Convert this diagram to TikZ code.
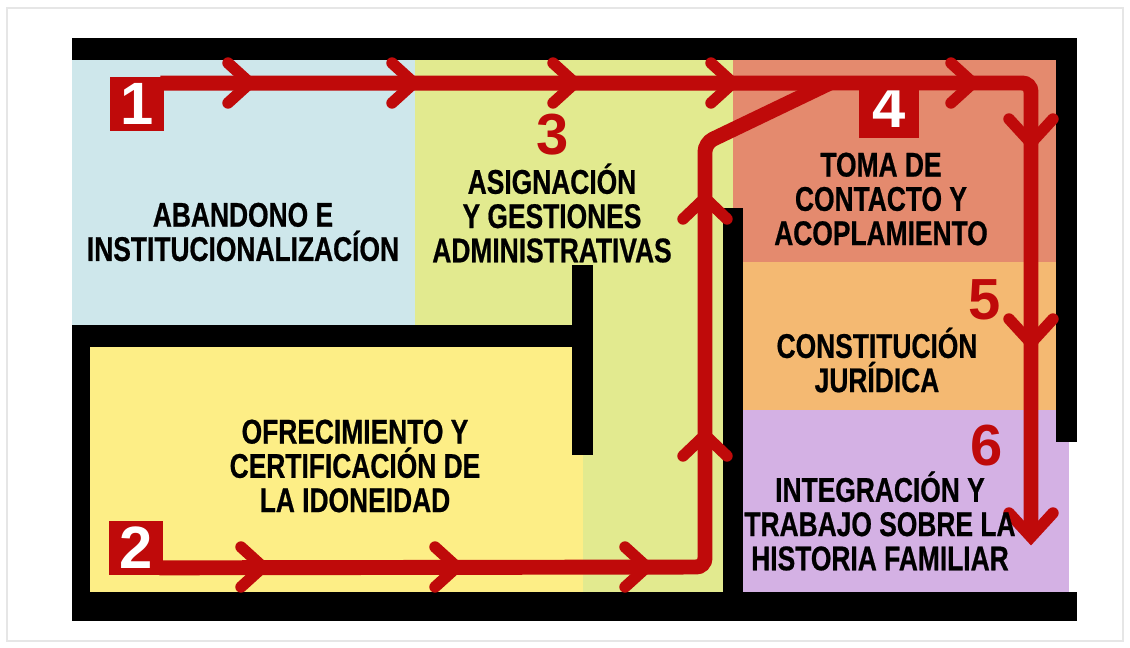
\documentclass[tikz,border=0pt]{standalone}
\usepackage{fontspec}
\setmainfont{Liberation Sans}
\newfontfamily\labfont{Liberation Sans}[FakeStretch=0.77,BoldFeatures={FakeBold=0.6}]
\definecolor{redpath}{HTML}{BF0A0A}
\definecolor{bluezone}{HTML}{CEE7EB}
\definecolor{greenzone}{HTML}{E2EA8F}
\definecolor{yellowzone}{HTML}{FDEE86}
\definecolor{salmonzone}{HTML}{E48A6E}
\definecolor{orangezone}{HTML}{F4B972}
\definecolor{purplezone}{HTML}{D4B1E4}
\definecolor{framegrey}{HTML}{E6E6E6}
\begin{document}
\begin{tikzpicture}[x=0.02cm,y=-0.02cm,
        wall/.style={fill=black},
        flow/.style={draw=redpath,line width=8.5pt,rounded corners=5pt},
        chev/.style={draw=redpath,line width=6.5pt,line cap=round},
        lab/.style={font=\labfont\bfseries\fontsize{19.5}{19.5}\selectfont,align=center,inner sep=0pt},
        num/.style={text=redpath,font=\bfseries\fontsize{33}{33}\selectfont,inner sep=0pt},
        numbox/.style={fill=redpath,text=white,font=\bfseries\fontsize{34}{34}\selectfont,
            minimum width=1.08cm,minimum height=1.1cm,inner sep=0pt}]
    \useasboundingbox (0,0) rectangle (1130,648);
    \draw[framegrey,line width=1pt] (7,8) rectangle (1123,641);
    % zones
    \fill[bluezone] (72,60) rectangle (415,325);
    \fill[greenzone] (415,60) rectangle (733,592);
    \fill[yellowzone] (90,347) rectangle (583,592);
    \fill[salmonzone] (733,60) rectangle (1056,262);
    \fill[orangezone] (743,262) rectangle (1056,410);
    \fill[purplezone] (743,410) rectangle (1069,592);
    % walls
    \fill[wall] (72,38) rectangle (1077,60);
    \fill[wall] (1056,38) rectangle (1077,442);
    \fill[wall] (72,325) rectangle (572,347);
    \fill[wall] (572,265) rectangle (593,455);
    \fill[wall] (72,325) rectangle (90,621);
    \fill[wall] (723,208) rectangle (743,621);
    \fill[wall] (72,592) rectangle (1077,621);
    % numbered boxes
    \node[numbox] (n1) at (137,104) {1};
    \node[numbox] (n2) at (136,548) {2};
    \node[numbox,minimum width=1.2cm,minimum height=1.24cm] (n4) at (889,107) {4};
    % paths
    \coordinate (k1) at (1031,83);
    \coordinate (e1) at (1031,530);
    \coordinate (k2) at (705,567);
    \coordinate (k3) at (705,143);
    \coordinate (k4) at (830,83);
    \draw[flow] (n1.north east) ++(-4,7) -- (k1) -- (e1);
    \draw[flow] (n2.south east) ++(-4,-8) -- (k2) -- (k3) -- (k4);
    \foreach \x in {250,414,575,733,973}
        \draw[chev] (\x-22,63) -- (\x,83) -- (\x-22,103);
    \foreach \x in {263,457,647}
        \draw[chev] (\x-22,547) -- (\x,567) -- (\x-22,587);
    \foreach \y in {198,435}
        \draw[chev] (683,\y+21) -- (705,\y) -- (727,\y+21);
    \foreach \y in {143,343,537}
        \draw[chev] (1009,\y-24) -- (1031,\y) -- (1053,\y-24);
    % labels
    \node[lab] (t1) at (243,232) {ABANDONO E\\INSTITUCIONALIZACÍON};
    \node[lab] (t2) at (355,466) {OFRECIMIENTO Y\\CERTIFICACIÓN DE\\LA IDONEIDAD};
    \node[lab] (t3) at (552,213) {ASIGNACIÓN\\Y GESTIONES\\ADMINISTRATIVAS};
    \node[lab] (t4) at (881,199) {TOMA DE\\CONTACTO Y\\ACOPLAMIENTO};
    \node[lab] (t5) at (877,360) {CONSTITUCIÓN\\JURÍDICA};
    \node[lab] (t6) at (880,521) {INTEGRACIÓN Y\\TRABAJO SOBRE LA\\HISTORIA FAMILIAR};
    \node[num] (d3) at (553,135) {3};
    \node[num] (d5) at (985,300) {5};
    \node[num] (d6) at (987,446) {6};
\end{tikzpicture}
\end{document}
